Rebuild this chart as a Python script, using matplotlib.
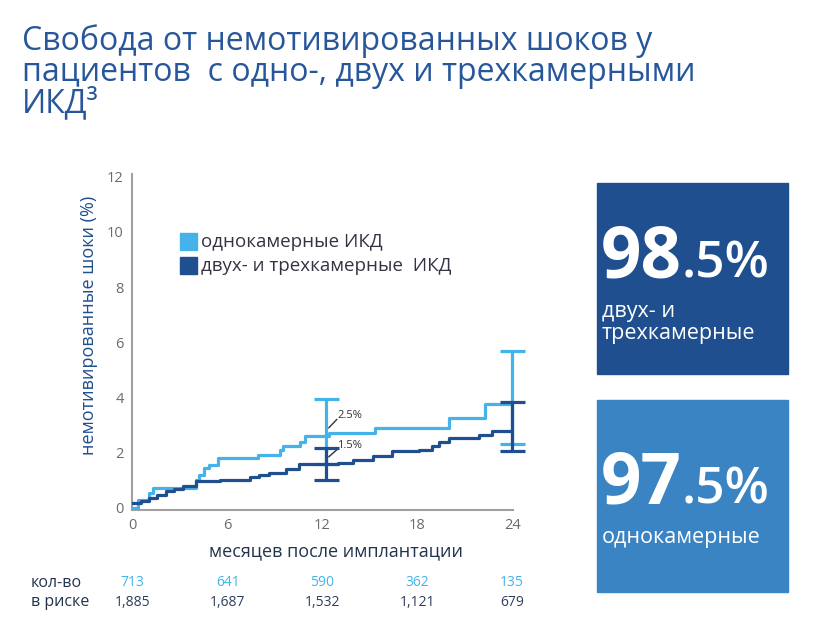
import matplotlib
matplotlib.use("Agg")
import matplotlib.pyplot as plt

plt.rcParams['font.family'] = ['Open Sans', 'DejaVu Sans']

# данные кривых (месяцы, % немотивированных шоков)
single_t = [0, 0.3, 1.05, 1.3, 4.0, 4.2, 4.5, 4.85, 5.4, 7.9, 9.3, 9.5, 10.6, 10.9, 12.4, 15.3, 20.0, 22.3, 24]
single_y = [0, 0.3, 0.55, 0.72, 1.0, 1.2, 1.45, 1.55, 1.8, 1.93, 2.1, 2.23, 2.4, 2.6, 2.7, 2.9, 3.25, 3.75, 3.75]

dual_t = [0, 0.5, 1.0, 1.5, 2.1, 2.6, 3.2, 4.0, 5.5, 7.4, 8.0, 8.6, 9.7, 10.5, 13.0, 13.9,
          15.2, 16.4, 18.1, 18.9, 19.4, 20.0, 21.9, 22.7, 24]
dual_y = [0.18, 0.25, 0.36, 0.48, 0.6, 0.68, 0.78, 0.97, 1.0, 1.1, 1.2, 1.27, 1.39, 1.57, 1.63, 1.75,
          1.87, 2.05, 2.1, 2.23, 2.4, 2.53, 2.65, 2.77, 2.77]

# доверительные интервалы
err_t = [12.2, 24]
single_lo = [1.6, 2.3]
single_hi = [3.95, 5.67]
dual_lo = [1.0, 2.05]
dual_hi = [2.17, 3.83]

x_ticks = [0, 6, 12, 18, 24]
risk_single = ['713', '641', '590', '362', '135']
risk_dual = ['1,885', '1,687', '1,532', '1,121', '679']

LIGHT = '#45b3ea'
DARK = '#1f4f8e'
TITLE_C = '#27579a'

fig = plt.figure(figsize=(8.34, 6.32), dpi=100)
W, H = 834, 632


def fx(px):
    return px / W


def fy(py):
    return 1 - py / H


ax = fig.add_axes([fx(132), fy(510), (513 - 132) / W, (510 - 174) / H])
ax.set_xlim(-0.05, 24.05)
ax.set_ylim(-0.08, 12.1)

ax.step(single_t, single_y, where='post', color=LIGHT, lw=2.3, zorder=3)
ax.step(dual_t, dual_y, where='post', color=DARK, lw=2.3, zorder=4)


def draw_err(t, lo, hi, col, z):
    c = (lo + hi) / 2
    eb = ax.errorbar([t], [c], yerr=[[c - lo], [hi - c]], fmt='none', ecolor=col,
                     elinewidth=2.3, capsize=9, capthick=2.3, zorder=z)
    for art in eb.lines[1] + eb.lines[2]:
        art.set_clip_on(False)


for t, lo, hi in zip(err_t, single_lo, single_hi):
    draw_err(t, lo, hi, LIGHT, 3)
for t, lo, hi in zip(err_t, dual_lo, dual_hi):
    draw_err(t, lo, hi, DARK, 5)

ax.plot([12.4, 12.9], [2.9, 3.2], color='#333333', lw=1)
ax.text(12.95, 3.35, '2.5%', fontsize=8, color='#333333', va='center')
ax.plot([12.4, 12.9], [1.85, 2.1], color='#333333', lw=1)
ax.text(12.95, 2.25, '1.5%', fontsize=8, color='#333333', va='center')

for s in ['top', 'right']:
    ax.spines[s].set_visible(False)
for s in ['left', 'bottom']:
    ax.spines[s].set_color('#a0a0a0')
    ax.spines[s].set_linewidth(1.5)
ax.set_xticks(x_ticks)
ax.set_yticks(range(0, 13, 2))
ax.tick_params(length=0, labelsize=10.5, labelcolor='#6b6b6b', pad=6)

# легенда
fig.patches.append(plt.Rectangle((fx(180), fy(250)), 17 / W, 17 / H, transform=fig.transFigure,
                                 color=LIGHT))
fig.patches.append(plt.Rectangle((fx(180), fy(274)), 17 / W, 17 / H, transform=fig.transFigure,
                                 color=DARK))
fig.text(fx(201), fy(242), 'однокамерные ИКД', fontsize=13.5, color='#333344', va='center')
fig.text(fx(201), fy(266), 'двух- и трехкамерные  ИКД', fontsize=13.5, color='#333344', va='center')

fig.text(fx(89), fy(325), 'немотивированные шоки (%)', rotation=90, fontsize=13,
         color=DARK, ha='center', va='center')
fig.text(fx(336), fy(551), 'месяцев после имплантации', fontsize=13, color='#22334d',
         ha='center', va='center')

# число пациентов в риске
for t, a, b in zip(x_ticks, risk_single, risk_dual):
    xp = ax.transData.transform((t, 0))[0] / W
    fig.text(xp, fy(583), a, fontsize=10, color=LIGHT, ha='center', va='center')
    fig.text(xp, fy(602), b, fontsize=10, color='#2d3e5c', ha='center', va='center')
fig.text(fx(31), fy(583), 'кол-во', fontsize=11.5, color='#22334d', va='center')
fig.text(fx(31), fy(602), 'в риске', fontsize=11.5, color='#22334d', va='center')

# заголовок
title_lines = ['Свобода от немотивированных шоков у',
               'пациентов  с одно-, двух и трехкамерными',
               'ИКД³']
for i, line in enumerate(title_lines):
    fig.text(fx(22), fy(50 + 31 * i), line, fontsize=23, color=TITLE_C, va='baseline')

# плашки с итогами
boxes = [
    (183, 374, DARK, '98', ['двух- и', 'трехкамерные'], 277),
    (400, 592, '#3b84c4', '97', ['однокамерные'], 503),
]
fig.canvas.draw()
r = fig.canvas.get_renderer()
for top, bot, col, big, label, base in boxes:
    fig.patches.append(plt.Rectangle((fx(597), fy(bot)), 191 / W, (bot - top) / H,
                                     transform=fig.transFigure, color=col))
    t1 = fig.text(fx(601), fy(base), big, fontsize=51, fontweight='bold', color='white',
                  va='baseline')
    bb = t1.get_window_extent(renderer=r)
    fig.text(bb.x1 / W, fy(base), '.5%', fontsize=37, fontweight='semibold', color='white',
             va='baseline')
    for k, ln in enumerate(label):
        fig.text(fx(602), fy(base + 40 + 22 * k), ln, fontsize=15.5, color='white',
                 va='baseline')

fig.savefig('out.png', dpi=100)
